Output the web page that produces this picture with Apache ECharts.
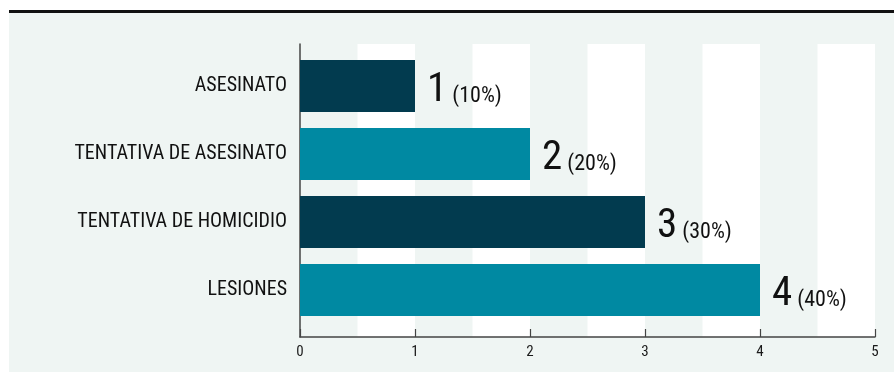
<!DOCTYPE html>
<html>
<head>
<meta charset="utf-8">
<script src="https://cdn.jsdelivr.net/npm/echarts@6/dist/echarts.min.js"></script>
<style>
  html, body { margin: 0; padding: 0; background: #ffffff; }
  #wrap { position: relative; width: 894px; height: 372px; overflow: hidden; }
  #panel { position: absolute; left: 9px; top: 13px; width: 885px; height: 359px; background: #eff5f3; }
  #rule { position: absolute; left: 9px; top: 10px; width: 885px; height: 3px; background: #111111; }
  #chart { position: absolute; left: 0; top: 0; width: 894px; height: 372px; }
</style>
</head>
<body>
<div id="wrap">
  <div id="panel"></div>
  <div id="rule"></div>
  <div id="chart"></div>
</div>
<script>
const categories = ['ASESINATO', 'TENTATIVA DE ASESINATO', 'TENTATIVA DE HOMICIDIO', 'LESIONES'];
const values = [1, 2, 3, 4];
const percents = [10, 20, 30, 40];
const barColors = ['#023b4f', '#0089a2', '#023b4f', '#0089a2'];
const xTicks = [0, 1, 2, 3, 4, 5];

const FONT = '"Roboto", sans-serif';
const STRETCH = 'condensed';

const chart = echarts.init(document.getElementById('chart'), null, { renderer: 'canvas' });
chart.setOption({
  backgroundColor: 'transparent',
  animation: false,
  grid: [
    { left: 300, right: 19, top: 44, bottom: 35 },
    { left: 300, right: 19, top: 52, bottom: 48 }
  ],
  xAxis: [
    {
      gridIndex: 0, type: 'value', min: xTicks[0], max: xTicks[xTicks.length - 1], interval: 1,
      axisLine: { show: true, lineStyle: { color: '#444', width: 1.5 } },
      axisTick: { show: true, inside: true, length: 8, lineStyle: { color: '#444', width: 1.2 } },
      axisLabel: { show: true, margin: 8, fontFamily: FONT, fontStyle: STRETCH, fontSize: 15, color: '#1a1a1a' },
      splitLine: { show: false }
    },
    {
      gridIndex: 0, type: 'value', min: 0, max: 5, interval: 0.5, position: 'bottom',
      axisLine: { show: false }, axisTick: { show: false }, axisLabel: { show: false },
      splitLine: { show: false },
      splitArea: { show: true, areaStyle: { color: ['rgba(0,0,0,0)', '#ffffff'] } }
    },
    {
      gridIndex: 1, type: 'value', min: 0, max: 5, show: false
    }
  ],
  yAxis: [
    {
      gridIndex: 0, type: 'value', min: 0, max: 1,
      axisLine: { show: true, lineStyle: { color: '#444', width: 1.5 } },
      axisTick: { show: false }, axisLabel: { show: false }, splitLine: { show: false }
    },
    {
      gridIndex: 1, type: 'category', data: categories, inverse: true,
      axisLine: { show: false }, axisTick: { show: false },
      axisLabel: { margin: 13, padding: [5, 0, 0, 0], fontFamily: FONT, fontStyle: STRETCH, fontSize: 20, color: '#111' }
    }
  ],
  series: [
    {
      type: 'bar', xAxisIndex: 2, yAxisIndex: 1,
      barWidth: 52,
      data: values.map((v, i) => ({ value: v, itemStyle: { color: barColors[i] } })),
      label: {
        show: true, position: 'right', distance: 12, offset: [0, 5],
        formatter: (p) => '{a|' + values[p.dataIndex] + '}{b| (' + percents[p.dataIndex] + '%)}',
        rich: {
          a: { fontFamily: FONT, fontStyle: STRETCH, fontSize: 41, color: '#111', verticalAlign: 'bottom', lineHeight: 40 },
          b: { fontFamily: FONT, fontStyle: STRETCH, fontSize: 22, color: '#111', verticalAlign: 'bottom', lineHeight: 40, padding: [0, 0, 4, 0] }
        }
      }
    }
  ]
});
</script>
</body>
</html>
